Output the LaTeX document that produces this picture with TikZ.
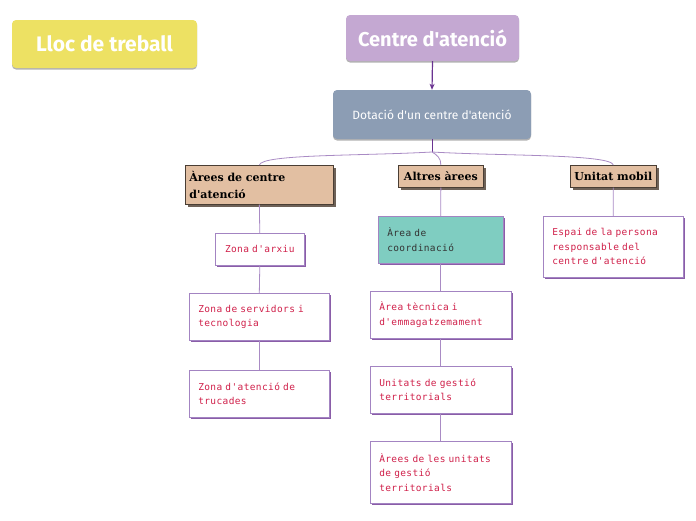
\documentclass[tikz,border=0pt]{standalone}
\usepackage{fontspec}
\setmainfont{Fira Sans}
\newfontfamily\titlefont{Fira Sans}
\newfontfamily\redfont[LetterSpace=4]{DejaVu Sans Mono}
\newfontfamily\headfont{DejaVu Serif}
\usetikzlibrary{shadows,arrows.meta}
\definecolor{cyellow}{HTML}{EDE163}
\definecolor{cpurple}{HTML}{C4A8D2}
\definecolor{cgray}{HTML}{8C9DB4}
\definecolor{ctan}{HTML}{E2BFA2}
\definecolor{cheadborder}{HTML}{4A3E34}
\definecolor{cheadshadow}{HTML}{6E6258}
\definecolor{cteal}{HTML}{7FCDC1}
\definecolor{cred}{HTML}{D0204A}
\definecolor{cleafborder}{HTML}{A384C2}
\definecolor{cleafshadow}{HTML}{8A5DA8}
\definecolor{cline}{HTML}{A98BC4}
\definecolor{carrow}{HTML}{6A3391}
\tikzset{
  titlebox/.style={rounded corners=4pt, text=white, inner sep=0pt,
    general shadow={fill=black!30, shadow xshift=0pt, shadow yshift=-1.5pt}},
  headbox/.style={draw=cheadborder, fill=ctan, line width=0.7pt, anchor=north west,
    font=\headfont\bfseries\fontsize{11}{17}\selectfont, text=black, inner xsep=4pt, inner ysep=2pt,
    general shadow={fill=cheadshadow, shadow xshift=2.5pt, shadow yshift=-2.5pt}},
  leafbox/.style={draw=cleafborder, fill=white, line width=0.6pt, anchor=north west,
    font=\redfont\fontsize{9.5}{14.5}\selectfont, text=cred, align=left, inner xsep=9pt,
    general shadow={fill=cleafshadow, shadow xshift=2pt, shadow yshift=-2pt}},
  conn/.style={draw=cline, line width=0.8pt},
}
\begin{document}
\begin{tikzpicture}[x=1pt,y=-1pt]
\useasboundingbox (0,0) rectangle (696,520);
% titles
\node[titlebox, fill=cyellow, minimum width=185pt, minimum height=48pt,
  font=\titlefont\bfseries\fontsize{21}{24}\selectfont] (lloc) at (104.5,44) {Lloc de treball};
\node[titlebox, fill=cpurple, minimum width=173pt, minimum height=46pt,
  font=\titlefont\bfseries\fontsize{20}{24}\selectfont] (centre) at (432.5,38) {Centre d'atenció};
\node[titlebox, fill=cgray, minimum width=198pt, minimum height=49pt,
  font=\titlefont\fontsize{12}{14}\selectfont] (dot) at (432,114.5) {Dotació d'un centre d'atenció};
% headers
\node[headbox, minimum width=148pt, minimum height=39pt, text width=140pt, align=left] (h1) at (185,165)
  {Àrees de centre\\d'atenció};
\node[headbox, minimum width=85pt, minimum height=22pt, align=center] (h2) at (398,165) {Altres àrees};
\node[headbox, minimum width=85pt, minimum height=22pt, align=center] (h3) at (570,165) {Unitat mobil};
% leaves column 1
\node[leafbox, minimum width=89pt, minimum height=32pt, text width=71pt, align=center] (a1) at (215,233) {Zona d'arxiu};
\node[leafbox, minimum width=140pt, minimum height=47pt, text width=122pt] (a2) at (189,293) {Zona de servidors i\\tecnologia};
\node[leafbox, minimum width=140pt, minimum height=47pt, text width=122pt] (a3) at (189,370) {Zona d'atenció de\\trucades};
% column 2
\node[leafbox, fill=cteal, text=black!80, minimum width=125pt, minimum height=47pt, text width=107pt] (b1) at (378,216) {Àrea de\\coordinació};
\node[leafbox, minimum width=141pt, minimum height=47pt, text width=123pt] (b2) at (370,291) {Àrea tècnica i\\d'emmagatzemament};
\node[leafbox, minimum width=141pt, minimum height=47pt, text width=123pt] (b3) at (370,366) {Unitats de gestió\\territorials};
\node[leafbox, minimum width=141pt, minimum height=62pt, text width=123pt] (b4) at (370,441) {Àrees de les unitats\\de gestió\\territorials};
% column 3
\node[leafbox, minimum width=140pt, minimum height=61pt, text width=122pt] (c1) at (543,216) {Espai de la persona\\responsable del\\centre d'atenció};
% connectors
\draw[carrow, line width=1.2pt, -{Stealth[length=6pt,width=5pt]}] (centre.south) -- (dot.north);
\coordinate (j) at (432,152);
\draw[draw=carrow, line width=0.9pt] (dot.south) -- (j);
\draw[conn] (j) .. controls (360,156) and (262,154) .. (h1.north);
\draw[conn] (j) .. controls (437,155) and (441,158) .. (h2.north);
\draw[conn] (j) .. controls (500,156) and (611,154) .. (h3.north);
\draw[conn] (h1.south) -- (a1.north);
\draw[conn] (a1.south) -- (a2.north);
\draw[conn] (a2.south) -- (a3.north);
\draw[conn] (h2.south) -- (b1.north);
\draw[conn] (b1.south) -- (b2.north);
\draw[conn] (b2.south) -- (b3.north);
\draw[conn] (b3.south) -- (b4.north);
\draw[conn] (h3.south) -- (c1.north);
\end{tikzpicture}
\end{document}
